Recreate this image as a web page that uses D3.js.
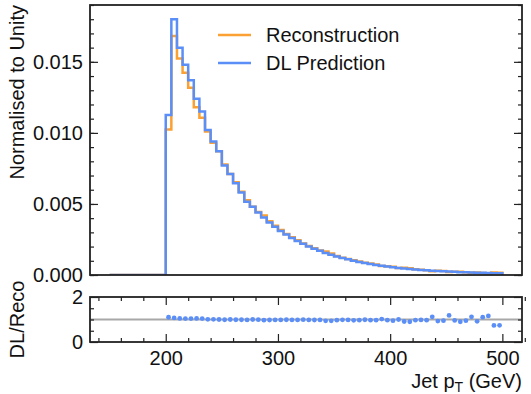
<!DOCTYPE html>
<html>
<head>
<meta charset="utf-8">
<script src="https://cdn.jsdelivr.net/npm/d3@7"></script>
<style>
  html, body { margin: 0; padding: 0; background: #fff; }
  svg text { font-family: "Liberation Sans", Arial, Helvetica, sans-serif; fill: #111; }
</style>
</head>
<body>
<div id="chart"></div>
<script>
// histogram edges: 150 -> 500 GeV in 5 GeV bins
const binEdges = d3.range(150, 501, 5);

// normalised counts (x 1e-3), first 10 bins (150-200) are empty
const recoValues = [
  0, 0, 0, 0, 0, 0, 0, 0, 0, 0,
  10.24, 16.82, 15.24, 14.23, 13.17, 11.81, 11.06, 10.10, 9.31, 8.70,
  7.78, 7.10, 6.52, 5.86, 5.26, 4.80, 4.44, 4.18, 3.78, 3.47,
  3.16, 2.88, 2.65, 2.45, 2.22, 2.04, 1.89, 1.73, 1.65, 1.51,
  1.34, 1.22, 1.12, 1.04, 0.948, 0.859, 0.804, 0.732, 0.637, 0.619,
  0.579, 0.500, 0.505, 0.467, 0.402, 0.367, 0.340, 0.268, 0.301, 0.274,
  0.203, 0.229, 0.222, 0.200, 0.152, 0.174, 0.136, 0.121, 0.176, 0.162
];
const dlValues = [
  0, 0, 0, 0, 0, 0, 0, 0, 0, 0,
  11.26, 18.0, 16.0, 14.8, 13.7, 12.4, 11.5, 10.2, 9.4, 8.7,
  7.7, 7.1, 6.45, 5.8, 5.15, 4.8, 4.4, 4.05, 3.7, 3.4,
  3.1, 2.85, 2.6, 2.4, 2.2, 2.0, 1.85, 1.7, 1.55, 1.42,
  1.3, 1.2, 1.1, 1.0, 0.92, 0.85, 0.78, 0.71, 0.65, 0.6,
  0.55, 0.5, 0.46, 0.42, 0.39, 0.36, 0.33, 0.30, 0.28, 0.26,
  0.24, 0.22, 0.20, 0.19, 0.17, 0.16, 0.15, 0.14, 0.13, 0.12
];

const seriesNames = ['Reconstruction', 'DL Prediction'];
const seriesColors = ['#fba133', '#5b8ff7'];

const mainYTicks = [0, 0.005, 0.010, 0.015];
const ratioYTicks = [0, 2];
const xTicks = [200, 300, 400, 500];

const W = 531, H = 394;
const L = 90, R = 522, T = 5, B1 = 275, T2 = 297, B2 = 342;
const FS = 20;

const svg = d3.select('#chart').append('svg')
  .attr('width', W).attr('height', H);

const x = d3.scaleLinear().domain([132.5, 517.5]).range([L, R]);
const y = d3.scaleLinear().domain([0, 0.019]).range([B1, T]);
const yr = d3.scaleLinear().domain([0, 2]).range([B2, T2]);

// stairs outline, dropping to baseline at both ends
function stairs(vals) {
  const pts = [[binEdges[0], 0]];
  vals.forEach((v, i) => {
    pts.push([binEdges[i], v / 1000]);
    pts.push([binEdges[i + 1], v / 1000]);
  });
  pts.push([binEdges[binEdges.length - 1], 0]);
  return d3.line().x(d => x(d[0])).y(d => y(d[1]))(pts);
}

const mainG = svg.append('g');
mainG.append('defs').append('clipPath').attr('id', 'clipMain')
  .append('rect').attr('x', L).attr('y', T).attr('width', R - L).attr('height', B1 - T);

const plotG = mainG.append('g').attr('clip-path', 'url(#clipMain)');
[recoValues, dlValues].forEach((vals, k) => {
  plotG.append('path')
    .attr('d', stairs(vals))
    .attr('fill', 'none')
    .attr('stroke', seriesColors[k])
    .attr('stroke-width', 2.5)
    .attr('stroke-linejoin', 'miter');
});

// y axes on both sides, ticks pointing inward
const yMinor = d3.range(0, 0.0195, 0.001);
function yAxes(g, scale, major, minor, left, right, fmt) {
  g.append('g').attr('transform', `translate(${left},0)`)
    .call(d3.axisLeft(scale).tickValues(minor).tickSizeInner(-4).tickSizeOuter(0).tickFormat(''));
  g.append('g').attr('transform', `translate(${left},0)`)
    .call(d3.axisLeft(scale).tickValues(major).tickSizeInner(-8).tickSizeOuter(0).tickPadding(7).tickFormat(fmt));
  g.append('g').attr('transform', `translate(${right},0)`)
    .call(d3.axisRight(scale).tickValues(minor).tickSizeInner(-4).tickSizeOuter(0).tickFormat(''));
  g.append('g').attr('transform', `translate(${right},0)`)
    .call(d3.axisRight(scale).tickValues(major).tickSizeInner(-8).tickSizeOuter(0).tickFormat(''));
}
yAxes(mainG, y, mainYTicks, yMinor, L, R, d3.format('.3f'));

// legend
seriesNames.forEach((name, k) => {
  const ly = 35 + k * 28;
  mainG.append('line').attr('x1', 218).attr('x2', 251).attr('y1', ly).attr('y2', ly)
    .attr('stroke', seriesColors[k]).attr('stroke-width', 2.5);
  mainG.append('text').attr('x', 266).attr('y', ly).attr('dy', '0.35em')
    .attr('font-size', FS).text(name);
});

// ratio panel
const ratioG = svg.append('g');
ratioG.append('line').attr('x1', L).attr('x2', R).attr('y1', yr(1)).attr('y2', yr(1))
  .attr('stroke', '#a8a8a8').attr('stroke-width', 2);

const ratioPts = dlValues.map((v, i) => ({
  x: (binEdges[i] + binEdges[i + 1]) / 2,
  r: recoValues[i] > 0 ? v / recoValues[i] : null
})).filter(d => d.r !== null);

ratioG.selectAll('circle.pt').data(ratioPts).join('circle')
  .attr('class', 'pt')
  .attr('cx', d => x(d.x)).attr('cy', d => yr(d.r)).attr('r', 2.4)
  .attr('fill', seriesColors[1]);

const xMinor = d3.range(140, 521, 20).filter(v => v % 100 !== 0);
ratioG.append('g').attr('transform', `translate(0,${B2})`)
  .call(d3.axisBottom(x).tickValues(xMinor).tickSizeInner(-4).tickSizeOuter(0).tickFormat(''));
ratioG.append('g').attr('transform', `translate(0,${B2})`)
  .call(d3.axisBottom(x).tickValues(xTicks).tickSizeInner(-8).tickSizeOuter(0).tickPadding(9).tickFormat(d3.format('d')));
ratioG.append('g').attr('transform', `translate(0,${T2})`)
  .call(d3.axisTop(x).tickValues(xMinor).tickSizeInner(-4).tickSizeOuter(0).tickFormat(''));
ratioG.append('g').attr('transform', `translate(0,${T2})`)
  .call(d3.axisTop(x).tickValues(xTicks).tickSizeInner(-8).tickSizeOuter(0).tickFormat(''));
yAxes(ratioG, yr, ratioYTicks, [0.5, 1, 1.5], L, R, d3.format('d'));

// tidy axes: frames drawn separately, dark ticks
svg.selectAll('.domain').remove();
svg.selectAll('.tick line').attr('stroke', '#222').attr('stroke-width', 1.2);
svg.selectAll('.tick text').attr('font-size', FS).attr('fill', '#111')
  .attr('font-family', '"Liberation Sans", Arial, sans-serif');

// frames
[[T, B1], [T2, B2]].forEach(([t, b]) => {
  svg.append('rect').attr('x', L).attr('y', t).attr('width', R - L).attr('height', b - t)
    .attr('fill', 'none').attr('stroke', '#222').attr('stroke-width', 1.8);
});

// axis titles
svg.append('text')
  .attr('transform', `translate(24,${T}) rotate(-90)`)
  .attr('text-anchor', 'end').attr('font-size', FS).text('Normalised to Unity');
svg.append('text')
  .attr('transform', `translate(24,${yr(1)}) rotate(-90)`)
  .attr('text-anchor', 'middle').attr('font-size', FS).text('DL/Reco');

const xl = svg.append('text').attr('x', R).attr('y', 388)
  .attr('text-anchor', 'end').attr('font-size', FS);
xl.append('tspan').text('Jet p');
xl.append('tspan').attr('font-size', FS * 0.7).attr('dy', 4).text('T');
xl.append('tspan').attr('dy', -4).text(' (GeV)');
</script>
</body>
</html>
